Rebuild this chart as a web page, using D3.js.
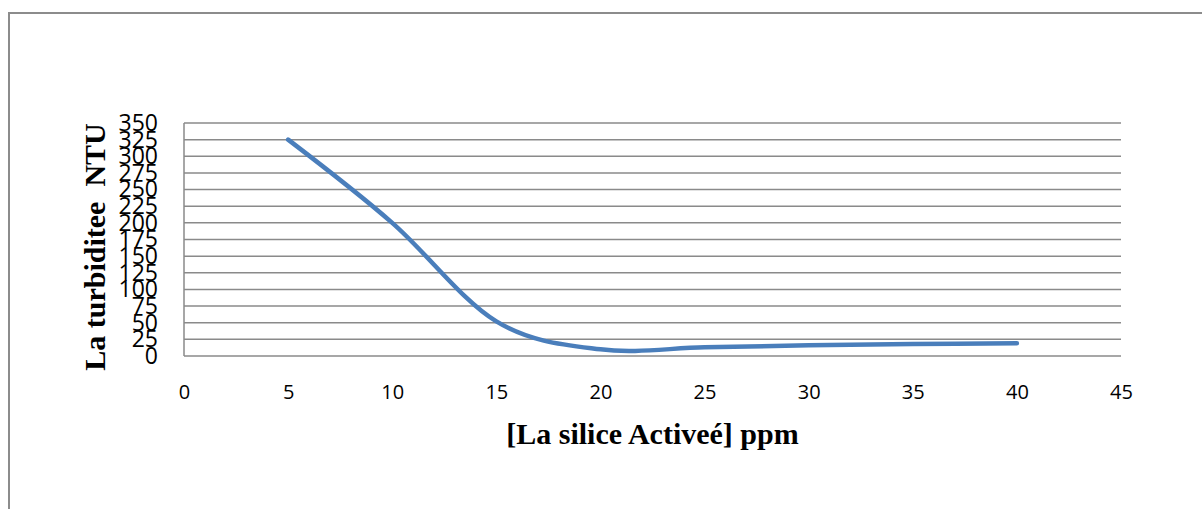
<!DOCTYPE html>
<html>
<head>
<meta charset="utf-8">
<script src="https://cdn.jsdelivr.net/npm/d3@7"></script>
<style>
    body { margin: 0; background: #fff; }
    svg { display: block; }
</style>
</head>
<body>
<div id="container"></div>
<script>

// silice dose (ppm) and turbidity (NTU)
var doses = [5, 10, 15, 20, 25, 30, 35, 40];
var turbidity = [325, 200, 52, 10, 13, 16, 18, 19];

var xTicks = [0, 5, 10, 15, 20, 25, 30, 35, 40, 45];
var yTicks = [0, 25, 50, 75, 100, 125, 150, 175, 200, 225, 250, 275, 300, 325, 350];

var xTitle = "[La silice Activeé] ppm";
var yTitle = "La turbiditee  NTU";

var width = 1202,
    height = 509;

var margin = { top: 123, right: 81, bottom: 153, left: 184 };

var svg = d3.select("#container").append("svg")
    .attr("width", width)
    .attr("height", height);

// outer chart frame (runs off right and bottom edges)
svg.append("rect")
    .attr("x", 9)
    .attr("y", 13)
    .attr("width", width)
    .attr("height", height)
    .attr("fill", "none")
    .attr("stroke", "#8c8c8c")
    .attr("stroke-width", 2);

var x = d3.scaleLinear()
    .domain([0, 45])
    .range([margin.left, width - margin.right]);

var y = d3.scaleLinear()
    .domain([0, 350])
    .range([height - margin.bottom, margin.top]);

// horizontal gridlines
svg.append("g")
    .selectAll("line")
    .data(yTicks)
    .join("line")
    .attr("x1", x(0))
    .attr("x2", x(45))
    .attr("y1", function (d) { return y(d); })
    .attr("y2", function (d) { return y(d); })
    .attr("stroke", "#8a8a8a")
    .attr("stroke-width", 1.5);

// y axis line
svg.append("line")
    .attr("x1", x(0))
    .attr("x2", x(0))
    .attr("y1", y(0))
    .attr("y2", y(350))
    .attr("stroke", "#8a8a8a")
    .attr("stroke-width", 1.5);

var yAxis = svg.append("g")
    .attr("transform", "translate(" + (x(0) - 26) + ",0)")
    .call(d3.axisLeft(y).tickValues(yTicks).tickSize(0).tickPadding(0));
yAxis.select(".domain").remove();
yAxis.selectAll("text")
    .attr("font-family", "Open Sans, sans-serif")
    .attr("font-size", 23)
    .attr("fill", "#000");

var xAxis = svg.append("g")
    .attr("transform", "translate(0," + (y(0) + 29) + ")")
    .call(d3.axisBottom(x).tickValues(xTicks).tickSize(0).tickPadding(0));
xAxis.select(".domain").remove();
xAxis.selectAll("text")
    .attr("font-family", "Open Sans, sans-serif")
    .attr("font-size", 20)
    .attr("fill", "#000");

var line = d3.line()
    .x(function (d, i) { return x(doses[i]); })
    .y(function (d) { return y(d); })
    .curve(d3.curveCardinal.tension(0));

svg.append("path")
    .datum(turbidity)
    .attr("d", line)
    .attr("fill", "none")
    .attr("stroke", "#4a7ebb")
    .attr("stroke-width", 4.5)
    .attr("stroke-linecap", "round");

svg.append("text")
    .attr("x", (x(0) + x(45)) / 2)
    .attr("y", 444)
    .attr("text-anchor", "middle")
    .attr("font-family", "Liberation Serif, serif")
    .attr("font-weight", "bold")
    .attr("font-size", 30)
    .text(xTitle);

svg.append("text")
    .attr("transform", "translate(105,247) rotate(-90)")
    .attr("text-anchor", "middle")
    .attr("font-family", "Liberation Serif, serif")
    .attr("font-weight", "bold")
    .attr("font-size", 30)
    .style("white-space", "pre")
    .text(yTitle);

</script>
</body>
</html>
